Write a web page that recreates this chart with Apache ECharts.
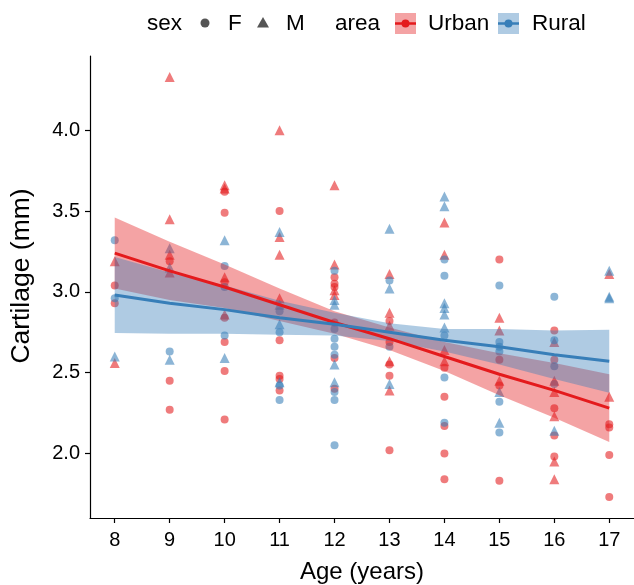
<!DOCTYPE html>
<html lang="en">
<head>
    <meta charset="UTF-8">
    <title>Cartilage vs Age</title>
    <script src="https://cdn.jsdelivr.net/npm/echarts@6/dist/echarts.min.js"></script>
    <style>
        html, body { margin: 0; padding: 0; background: #fff; }
    </style>
</head>
<body>
<div id="main" style="width:634px;height:585px;"></div>

<script>
    // ages on the x axis
    var ages = [8, 9, 10, 11, 12, 13, 14, 15, 16, 17];
    var yTicks = [2.0, 2.5, 3.0, 3.5, 4.0];

    // points: [age, cartilage]
    var urbanF = [
        [8, 3.04], [8, 2.93],
        [9, 3.19], [9, 2.45], [9, 2.27],
        [10, 3.62], [10, 3.49], [10, 3.06], [10, 2.84], [10, 2.69], [10, 2.51], [10, 2.21],
        [11, 3.50], [11, 2.70], [11, 2.48], [11, 2.46], [11, 2.39],
        [12, 3.09], [12, 3.05], [12, 3.03], [12, 2.81], [12, 2.59], [12, 2.40],
        [13, 2.82], [13, 2.69], [13, 2.55], [13, 2.48], [13, 2.02],
        [14, 2.53], [14, 2.35], [14, 2.17], [14, 2.00], [14, 1.84],
        [15, 3.20], [15, 2.58], [15, 2.42], [15, 1.83],
        [16, 2.76], [16, 2.58], [16, 2.28], [16, 2.11], [16, 1.98],
        [17, 2.18], [17, 2.16], [17, 1.99], [17, 1.73]
    ];
    var urbanM = [
        [8, 3.19], [8, 2.56],
        [9, 4.33], [9, 3.45], [9, 3.23], [9, 3.12],
        [10, 3.66], [10, 3.64], [10, 3.09], [10, 2.86],
        [11, 4.00], [11, 3.34], [11, 3.23], [11, 2.96],
        [12, 3.66], [12, 3.17], [12, 3.01], [12, 2.98],
        [13, 3.11], [13, 2.87], [13, 2.79], [13, 2.57], [13, 2.39],
        [14, 3.43], [14, 3.23], [14, 2.64], [14, 2.57],
        [15, 2.84], [15, 2.76], [15, 2.45],
        [16, 2.69], [16, 2.45], [16, 2.38], [16, 2.23], [16, 1.95], [16, 1.84],
        [17, 3.11], [17, 2.35]
    ];
    var ruralF = [
        [8, 3.32], [8, 2.96],
        [9, 2.63],
        [10, 3.16], [10, 3.03], [10, 2.73],
        [11, 2.88], [11, 2.75], [11, 2.42], [11, 2.33],
        [12, 3.13], [12, 2.77], [12, 2.71], [12, 2.66], [12, 2.61], [12, 2.38], [12, 2.33], [12, 2.05],
        [13, 3.07], [13, 2.66],
        [14, 3.20], [14, 3.10], [14, 2.73], [14, 2.47], [14, 2.19],
        [15, 3.04], [15, 2.69], [15, 2.66], [15, 2.63], [15, 2.32], [15, 2.13],
        [16, 2.97], [16, 2.70], [16, 2.54], [16, 2.43]
    ];
    var ruralM = [
        [8, 2.60],
        [9, 3.27], [9, 3.15], [9, 2.58],
        [10, 3.32], [10, 2.59],
        [11, 3.37], [11, 2.92], [11, 2.80], [11, 2.44],
        [12, 2.95], [12, 2.92], [12, 2.55], [12, 2.44],
        [13, 3.39], [13, 3.02], [13, 2.43],
        [14, 3.59], [14, 3.53], [14, 2.93], [14, 2.90], [14, 2.86], [14, 2.78],
        [15, 2.38], [15, 2.19],
        [16, 2.14],
        [17, 3.13], [17, 2.97], [17, 2.96]
    ];

    // fitted lines and confidence bands, read at each age
    var urbanFit = [3.24, 3.13, 3.03, 2.92, 2.81, 2.71, 2.60, 2.49, 2.39, 2.28];
    var urbanLo  = [3.02, 2.95, 2.90, 2.82, 2.74, 2.64, 2.51, 2.36, 2.22, 2.07];
    var urbanHi  = [3.46, 3.31, 3.17, 3.02, 2.88, 2.78, 2.69, 2.62, 2.56, 2.49];
    var ruralFit = [2.98, 2.93, 2.89, 2.84, 2.80, 2.75, 2.70, 2.66, 2.61, 2.57];
    var ruralLo  = [2.745, 2.74, 2.74, 2.735, 2.73, 2.695, 2.63, 2.55, 2.46, 2.375];
    var ruralHi  = [3.215, 3.12, 3.04, 2.945, 2.87, 2.805, 2.77, 2.77, 2.76, 2.765];

    var RED = '#E41A1C';
    var BLUE = '#377EB8';
    var FONT = 'Liberation Sans';

    function pairs(ys) {
        var out = [];
        for (var i = 0; i < ages.length; i++) out.push([ages[i], ys[i]]);
        return out;
    }

    // band polygon drawn through the axes
    function band(name, lo, hi, fill, z) {
        return {
            name: name,
            type: 'custom',
            z: z,
            silent: true,
            data: [[ages[0], lo[0]]],
            renderItem: function (params, api) {
                var pts = [];
                for (var i = 0; i < ages.length; i++) pts.push(api.coord([ages[i], hi[i]]));
                for (var j = ages.length - 1; j >= 0; j--) pts.push(api.coord([ages[j], lo[j]]));
                return {type: 'polygon', shape: {points: pts}, style: {fill: fill}};
            }
        };
    }

    function points(data, symbol, color, size) {
        return {
            type: 'scatter',
            z: 2,
            symbol: symbol,
            symbolSize: size,
            data: data,
            itemStyle: {color: color}
        };
    }

    function fitLine(ys, color, z) {
        return {
            type: 'line',
            z: z,
            data: pairs(ys),
            symbol: 'none',
            lineStyle: {color: color, width: 3},
            silent: true
        };
    }

    var chart = echarts.init(document.getElementById('main'));

    // legend drawn by hand
    var txt = {fill: '#000', fontSize: 22.5, fontFamily: FONT, verticalAlign: 'middle'};
    function legendText(x, s) {
        return {type: 'text', x: x, y: 24, style: Object.assign({text: s}, txt)};
    }
    function areaKey(x, fill, color) {
        return {
            type: 'group', x: x, y: 13,
            children: [
                {type: 'rect', shape: {x: 0, y: 0, width: 21, height: 21}, style: {fill: fill}},
                {type: 'line', shape: {x1: 0, y1: 10.5, x2: 21, y2: 10.5}, style: {stroke: color, lineWidth: 2.5}},
                {type: 'circle', shape: {cx: 10.5, cy: 10.5, r: 4}, style: {fill: color}}
            ]
        };
    }

    var option = {
        backgroundColor: '#fff',
        animation: false,
        grid: {left: 90, right: 0, top: 56, bottom: 67, outerBoundsMode: 'none', containLabel: false},
        xAxis: {
            type: 'value',
            min: 7.55,
            max: 17.45,
            name: 'Age (years)',
            nameLocation: 'middle',
            nameGap: 42,
            nameTextStyle: {color: '#000', fontSize: 24, fontFamily: FONT},
            axisLine: {lineStyle: {color: '#000', width: 1.2}},
            axisTick: {customValues: ages, length: 5, lineStyle: {color: '#000', width: 1.2}},
            axisLabel: {customValues: ages, color: '#000', fontSize: 20, fontFamily: FONT, margin: 12},
            splitLine: {show: false}
        },
        yAxis: {
            type: 'value',
            min: 1.6,
            max: 4.46,
            axisLine: {show: true, lineStyle: {color: '#000', width: 1.2}},
            axisTick: {show: true, customValues: yTicks, length: 5, lineStyle: {color: '#000', width: 1.2}},
            axisLabel: {
                customValues: yTicks, color: '#000', fontSize: 20, fontFamily: FONT, margin: 10,
                formatter: function (v) { return v.toFixed(1); }
            },
            splitLine: {show: false}
        },
        graphic: [
            // y axis title
            {
                type: 'text', x: 22, y: 276, rotation: Math.PI / 2,
                style: {text: 'Cartilage (mm)', fill: '#000', fontSize: 26.5, fontFamily: FONT,
                        align: 'center', verticalAlign: 'middle'}
            },
            legendText(147, 'sex'),
            {type: 'circle', shape: {cx: 205, cy: 23, r: 4.5}, style: {fill: '#555'}},
            legendText(228, 'F'),
            {type: 'polygon', shape: {points: [[263, 17], [257, 27.5], [269, 27.5]]}, style: {fill: '#555'}},
            legendText(286, 'M'),
            legendText(335, 'area'),
            areaKey(395, 'rgba(228,26,28,0.4)', RED),
            legendText(428, 'Urban'),
            areaKey(498, 'rgba(55,126,184,0.4)', BLUE),
            legendText(532, 'Rural')
        ],
        series: [
            points(urbanF, 'circle', 'rgba(228,26,28,0.72)', 8),
            points(urbanM, 'triangle', 'rgba(228,26,28,0.72)', 10),
            points(ruralF, 'circle', 'rgba(55,126,184,0.72)', 8),
            points(ruralM, 'triangle', 'rgba(55,126,184,0.72)', 10),
            band('urbanBand', urbanLo, urbanHi, 'rgba(228,26,28,0.4)', 3),
            band('ruralBand', ruralLo, ruralHi, 'rgba(55,126,184,0.4)', 4),
            fitLine(urbanFit, RED, 5),
            fitLine(ruralFit, BLUE, 6)
        ]
    };

    chart.setOption(option);
</script>
</body>
</html>
